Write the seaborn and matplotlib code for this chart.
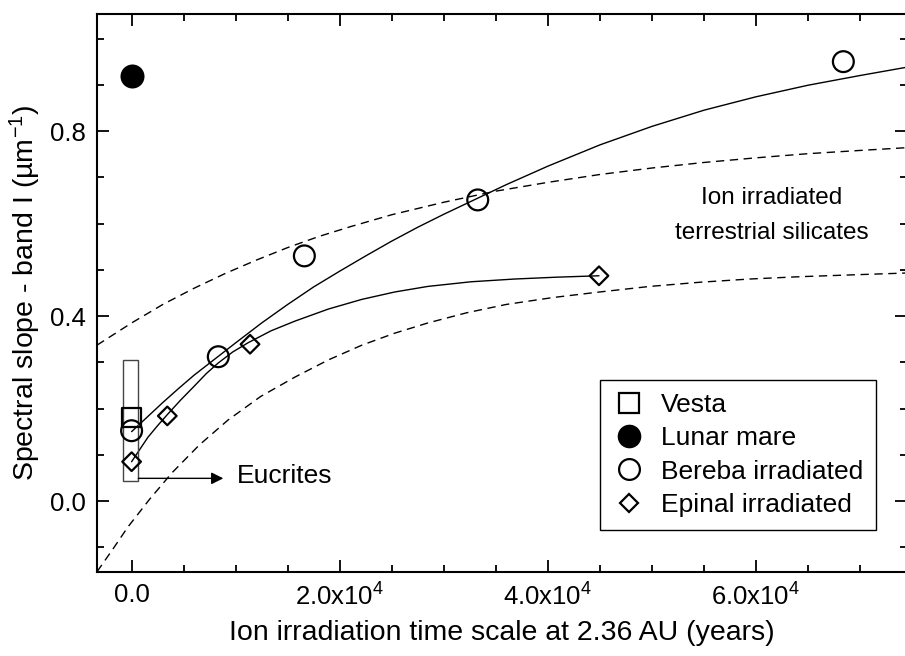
import numpy as np
import pandas as pd
import matplotlib
matplotlib.use("Agg")
import matplotlib.pyplot as plt
import seaborn as sns
from matplotlib.lines import Line2D
from matplotlib.patches import Rectangle
from matplotlib.ticker import FixedLocator, MultipleLocator

# measured points (x in years, y in um^-1)
vesta_x = [0]
vesta_y = [0.181]
lunar_x = [0]
lunar_y = [0.920]
bereba_x = [0, 8330, 16600, 33260, 68390]
bereba_y = [0.152, 0.312, 0.530, 0.651, 0.950]
epinal_x = [0, 3430, 11380, 44910]
epinal_y = [0.085, 0.184, 0.339, 0.487]

# fit curves
bereba_fit_x = [0, 1000, 2000, 3000, 4500, 6000, 8000, 10000, 12500, 15000, 17500, 20000, 22500,
                25000, 27500, 30000, 33000, 36000, 40000, 45000, 50000, 55000, 60000, 65000, 70000, 74500]
bereba_fit_y = [0.150, 0.171, 0.192, 0.213, 0.243, 0.272, 0.307, 0.342, 0.385, 0.425, 0.463, 0.497, 0.530,
                0.562, 0.592, 0.620, 0.652, 0.684, 0.724, 0.770, 0.810, 0.845, 0.874, 0.899, 0.920, 0.938]
epinal_fit_x = [0, 800, 1575, 2500, 3400, 4700, 6090, 7200, 8300, 9700, 11180, 13400, 15700,
                18900, 22130, 25300, 28470, 32600, 36830, 40900, 44910]
epinal_fit_y = [0.085, 0.112, 0.138, 0.163, 0.186, 0.218, 0.250, 0.276, 0.298, 0.322, 0.342, 0.368, 0.389,
                0.415, 0.436, 0.452, 0.464, 0.474, 0.480, 0.484, 0.487]

# ion irradiated terrestrial silicates (upper / lower bounds)
upper_x = [-3325, 0, 3000, 6000, 9000, 12000, 15000, 18000, 21000, 25000, 30000, 35000,
           40000, 45000, 50000, 55000, 60000, 65000, 70000, 74500]
upper_y = [0.337, 0.385, 0.425, 0.460, 0.492, 0.521, 0.548, 0.572, 0.593, 0.619, 0.646, 0.670,
           0.689, 0.706, 0.720, 0.732, 0.742, 0.751, 0.758, 0.764]
lower_x = [-3325, -1800, -350, 1700, 3880, 6500, 9260, 12400, 15700, 18900, 22130, 25300,
           28470, 32200, 36000, 40500, 44990, 49800, 54600, 59400, 64210, 69300, 74500]
lower_y = [-0.153, -0.104, -0.056, 0.003, 0.061, 0.121, 0.175, 0.226, 0.268, 0.305, 0.337, 0.363,
           0.385, 0.407, 0.425, 0.440, 0.452, 0.464, 0.473, 0.480, 0.485, 0.489, 0.493]

# eucrites range box
eucrite_x = [-797, 644]
eucrite_y = [0.043, 0.305]

xticks = [0, 20000, 40000, 60000]
xticklabels = ['0.0', '2.0x10$^{4}$', '4.0x10$^{4}$', '6.0x10$^{4}$']
yticks = [0.0, 0.4, 0.8]
yticklabels = ['0.0', '0.4', '0.8']
legend_labels = ['Vesta', 'Lunar mare', 'Bereba irradiated', 'Epinal irradiated']

sns.set_theme(style="ticks")
plt.rcParams['font.family'] = ['Liberation Sans', 'DejaVu Sans']
plt.rcParams['mathtext.fontset'] = 'custom'
plt.rcParams['mathtext.rm'] = 'Liberation Sans'
plt.rcParams['mathtext.it'] = 'Liberation Sans:italic'
plt.rcParams['mathtext.default'] = 'regular'
for k in ['text.color', 'axes.labelcolor', 'xtick.color', 'ytick.color', 'axes.edgecolor']:
    plt.rcParams[k] = 'black'

fig = plt.figure(figsize=(9.05, 6.56), dpi=100)
ax = fig.add_axes([97/905, 84/656, 810/905, 558/656])

# fits
sns.lineplot(x=bereba_fit_x, y=bereba_fit_y, ax=ax, color='black', lw=1.0, sort=False, estimator=None)
sns.lineplot(x=epinal_fit_x, y=epinal_fit_y, ax=ax, color='black', lw=1.0, sort=False, estimator=None)
sns.lineplot(x=upper_x, y=upper_y, ax=ax, color='black', lw=1.0, sort=False, estimator=None, linestyle=(0, (6, 4)))
sns.lineplot(x=lower_x, y=lower_y, ax=ax, color='black', lw=1.0, sort=False, estimator=None, linestyle=(0, (6, 4)))

# eucrite box + arrow
ax.add_patch(Rectangle((eucrite_x[0], eucrite_y[0]), eucrite_x[1] - eucrite_x[0], eucrite_y[1] - eucrite_y[0],
                       fill=False, edgecolor='#444444', lw=1.0, zorder=2))
ax.annotate('', xy=(8810, 0.049), xytext=(eucrite_x[1], 0.049),
            arrowprops=dict(arrowstyle='-|>', color='black', lw=1.0, mutation_scale=18, shrinkA=0, shrinkB=0))
ax.text(10100, 0.054, 'Eucrites', fontsize=19, ha='left', va='center')

# points
sns.scatterplot(x=vesta_x, y=vesta_y, ax=ax, marker='s', s=14**2, facecolors='none', edgecolor='black', linewidth=1.6, zorder=3)
sns.scatterplot(x=lunar_x, y=lunar_y, ax=ax, marker='o', s=16**2, color='black', edgecolor='black', zorder=3)
sns.scatterplot(x=bereba_x, y=bereba_y, ax=ax, marker='o', s=15**2, facecolors='none', edgecolor='black', linewidth=1.6, zorder=3)
sns.scatterplot(x=epinal_x, y=epinal_y, ax=ax, marker='D', s=9.5**2, facecolors='none', edgecolor='black', linewidth=1.6, zorder=3)

ax.text(61540, 0.655, 'Ion irradiated', fontsize=17.5, ha='center', va='center')
ax.text(61540, 0.579, 'terrestrial silicates', fontsize=17.5, ha='center', va='center')

ax.set_xlim(-3325, 74507)
ax.set_ylim(-0.1535, 1.053)
ax.xaxis.set_major_locator(FixedLocator(xticks))
ax.set_xticklabels(xticklabels)
ax.xaxis.set_minor_locator(MultipleLocator(5000))
ax.yaxis.set_major_locator(FixedLocator(yticks))
ax.set_yticklabels(yticklabels)
ax.yaxis.set_minor_locator(MultipleLocator(0.1))
ax.tick_params(which='both', direction='in', top=True, right=True, width=1.3, color='black')
ax.tick_params(which='major', length=8.5, labelsize=18.5, pad=8)
ax.tick_params(which='minor', length=5)
for sp in ax.spines.values():
    sp.set_linewidth(1.5)
    sp.set_color('black')

ax.set_xlabel('Ion irradiation time scale at 2.36 AU (years)', fontsize=20.5, labelpad=7)
ax.set_ylabel('Spectral slope - band I (\u00b5m$^{-1}$)', fontsize=20.5)
ax.yaxis.set_label_coords(-0.067, 0.5)

handles = [
    Line2D([], [], ls='none', marker='s', ms=14, mfc='none', mec='black', mew=1.6),
    Line2D([], [], ls='none', marker='o', ms=16, mfc='black', mec='black'),
    Line2D([], [], ls='none', marker='o', ms=15, mfc='none', mec='black', mew=1.6),
    Line2D([], [], ls='none', marker='D', ms=9.5, mfc='none', mec='black', mew=1.6),
]
leg = ax.legend(handles, legend_labels, loc='lower right', bbox_to_anchor=(876/905, 126/656),
                bbox_transform=fig.transFigure, frameon=True, fancybox=False, edgecolor='black',
                fontsize=19, borderaxespad=0, handlelength=1.2, handletextpad=0.6,
                labelspacing=0.35, borderpad=0.5, framealpha=1)
leg.get_frame().set_linewidth(1.0)

fig.savefig('out.png', dpi=100)
